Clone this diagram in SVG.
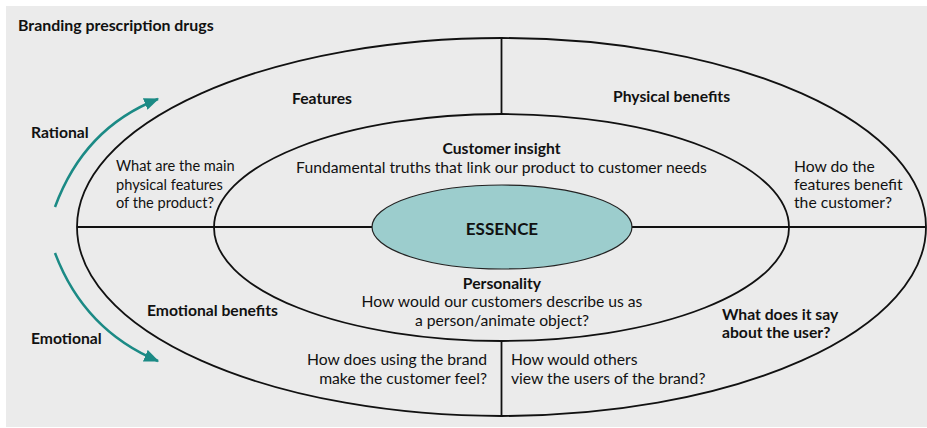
<svg xmlns="http://www.w3.org/2000/svg" width="927" height="428" viewBox="0 0 927 428">
<style>
.t{font-family:Lato,"Liberation Sans",sans-serif;font-size:15.7px;fill:#111}
.b{font-weight:bold}
.c{text-anchor:middle}
.r{text-anchor:end}
.s{font-size:14.6px}
.ln{fill:none;stroke:#111;stroke-width:1.8}
.ar{fill:none;stroke:#1b8a85;stroke-width:2.5}
</style>
<defs>
<marker id="ah" viewBox="0 0 12 10" refX="11" refY="5" markerWidth="6" markerHeight="5" orient="auto" markerUnits="strokeWidth">
<path d="M0,0 L12,5 L0,10 z" fill="#1b8a85"/>
</marker>
</defs>
<rect x="6" y="6" width="921" height="421" fill="#ebebeb"/>
<text class="t b" x="18" y="31" style="font-size:15.9px">Branding prescription drugs</text>
<g id="connectors">
<ellipse id="outer" class="ln" cx="501.5" cy="227" rx="424.5" ry="189"/>
<line class="ln" x1="77" y1="227" x2="926" y2="227"/>
<line class="ln" x1="501.5" y1="38" x2="501.5" y2="114"/>
<line class="ln" x1="501.5" y1="341" x2="501.5" y2="416"/>
<path class="ar" d="M55,207 Q84,128 158,99" marker-end="url(#ah)"/>
<path class="ar" d="M55,253 Q84,330 158,361" marker-end="url(#ah)"/>
</g>
<g id="inner">
<ellipse class="ln" cx="501.5" cy="227.5" rx="287.5" ry="113.5"/>
</g>
<g id="essence">
<ellipse cx="502" cy="227" rx="130" ry="42" fill="#9ccdcd" stroke="#222" stroke-width="1.2"/>
<text class="t b c" x="502" y="235" style="font-size:17px">ESSENCE</text>
</g>
<g id="rational"><text class="t b" x="31" y="138">Rational</text></g>
<g id="emotional"><text class="t b" x="31" y="344">Emotional</text></g>
<g id="features">
<text class="t b c" x="322" y="104">Features</text>
<text class="t s" x="116" y="171">What are the main</text>
<text class="t s" x="116" y="189.5">physical features</text>
<text class="t s" x="116" y="208">of the product?</text>
</g>
<g id="physical-benefits">
<text class="t b" x="613" y="102">Physical benefits</text>
<text class="t" x="794" y="172">How do the</text>
<text class="t" x="794" y="190">features benefit</text>
<text class="t" x="794" y="208">the customer?</text>
</g>
<g id="customer-insight">
<text class="t b c" x="501.5" y="154">Customer insight</text>
<text class="t c" x="501.5" y="173">Fundamental truths that link our product to customer needs</text>
</g>
<g id="personality">
<text class="t b c" x="502" y="289">Personality</text>
<text class="t c" x="502" y="307">How would our customers describe us as</text>
<text class="t c" x="502" y="326">a person/animate object?</text>
</g>
<g id="emotional-benefits">
<text class="t b" x="147" y="316">Emotional benefits</text>
<text class="t r" x="487" y="365">How does using the brand</text>
<text class="t r" x="487" y="384">make the customer feel?</text>
</g>
<g id="user">
<text class="t b" x="722" y="320">What does it say</text>
<text class="t b" x="722" y="338">about the user?</text>
<text class="t" x="511" y="365">How would others</text>
<text class="t" x="511" y="384">view the users of the brand?</text>
</g>
</svg>
